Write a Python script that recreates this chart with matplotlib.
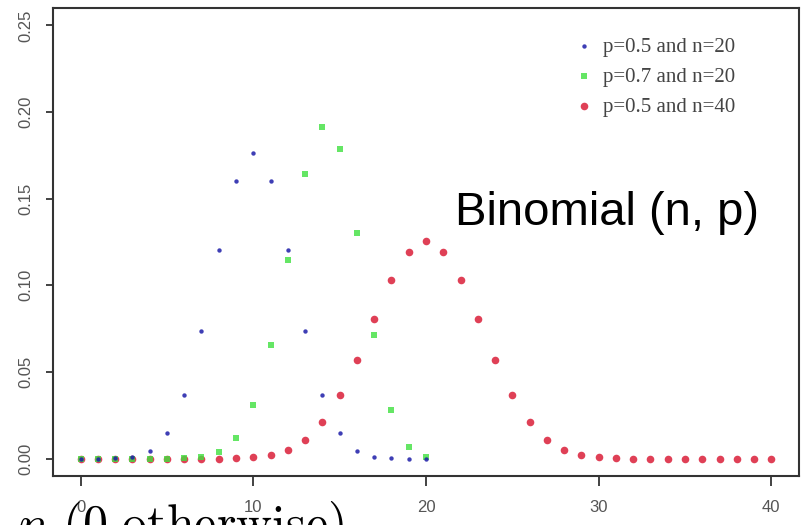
import matplotlib.pyplot as plt

plt.rcParams['mathtext.fontset'] = 'cm'

# P(X = k)
k20 = list(range(21))
k40 = list(range(41))

p05_n20 = [0.0, 0.0, 0.0002, 0.0011, 0.0046, 0.0148, 0.037, 0.0739, 0.1201, 0.1602,
           0.1762, 0.1602, 0.1201, 0.0739, 0.037, 0.0148, 0.0046, 0.0011, 0.0002, 0.0, 0.0]
p07_n20 = [0.0, 0.0, 0.0, 0.0, 0.0, 0.0, 0.0002, 0.001, 0.0039, 0.012,
           0.0308, 0.0654, 0.1144, 0.1643, 0.1916, 0.1789, 0.1304, 0.0716, 0.0278, 0.0068, 0.0008]
p05_n40 = [0.0, 0.0, 0.0, 0.0, 0.0, 0.0, 0.0, 0.0, 0.0001, 0.0002,
           0.0008, 0.0021, 0.0051, 0.0109, 0.0211, 0.0366, 0.0572, 0.0807, 0.1031, 0.1194,
           0.1254, 0.1194, 0.1031, 0.0807, 0.0572, 0.0366, 0.0211, 0.0109, 0.0051, 0.0021,
           0.0008, 0.0002, 0.0001, 0.0, 0.0, 0.0, 0.0, 0.0, 0.0, 0.0, 0.0]

labels = ["p=0.5 and n=20", "p=0.7 and n=20", "p=0.5 and n=40"]
xticks = [0, 10, 20, 30, 40]
yticks = [0.0, 0.05, 0.10, 0.15, 0.20, 0.25]

fig = plt.figure(figsize=(8.05, 5.25), dpi=100)
ax = fig.add_axes([0.0658, 0.0933, 0.9267, 0.8915])

r = ax.scatter(k40, p05_n40, s=30, color='#d8102c', alpha=0.8, linewidths=0, zorder=2)
g = ax.scatter(k20, p07_n20, s=22, marker='s', color='#3fe03f', alpha=0.8, linewidths=0, zorder=3)
b = ax.scatter(k20, p05_n20, s=10, color='#1c1ca8', alpha=0.85, linewidths=0, zorder=4)

ax.set_xlim(-1.6, 41.6)
ax.set_ylim(-0.01, 0.26)
ax.set_xticks(xticks)
ax.set_yticks(yticks)
ax.set_yticklabels([f"{v:.2f}" for v in yticks], rotation=90, va='center')
ax.tick_params(axis='y', length=5, width=1.2, pad=9, labelsize=12, labelcolor='#555555', color='#222222')
ax.tick_params(axis='x', length=7, width=1.2, pad=10, labelsize=12, labelcolor='#555555', color='#222222')
for lab in ax.get_xticklabels() + ax.get_yticklabels():
    lab.set_family('Liberation Sans')
for sp in ax.spines.values():
    sp.set_linewidth(1.5)
    sp.set_color('#333333')

ax.legend([b, g, r], labels, loc='upper left', bbox_to_anchor=(574 / 805, 1 - 37 / 525),
          bbox_transform=fig.transFigure, frameon=False, borderpad=0, borderaxespad=0,
          handlelength=1.0, handletextpad=0.4, labelspacing=0.5,
          prop={'family': 'Liberation Serif', 'size': 15}, labelcolor='#444444')

fig.text(455 / 805, 1 - 225 / 525, "Binomial (n, p)", family='Liberation Sans',
         fontsize=34, color='black', va='baseline', ha='left')

fig.text(18 / 805, 1 - 540 / 525, r"$n\ (0\ \mathrm{otherwise})$", fontsize=36,
         color='black', va='baseline', ha='left')

fig.savefig('out.png', dpi=100)
